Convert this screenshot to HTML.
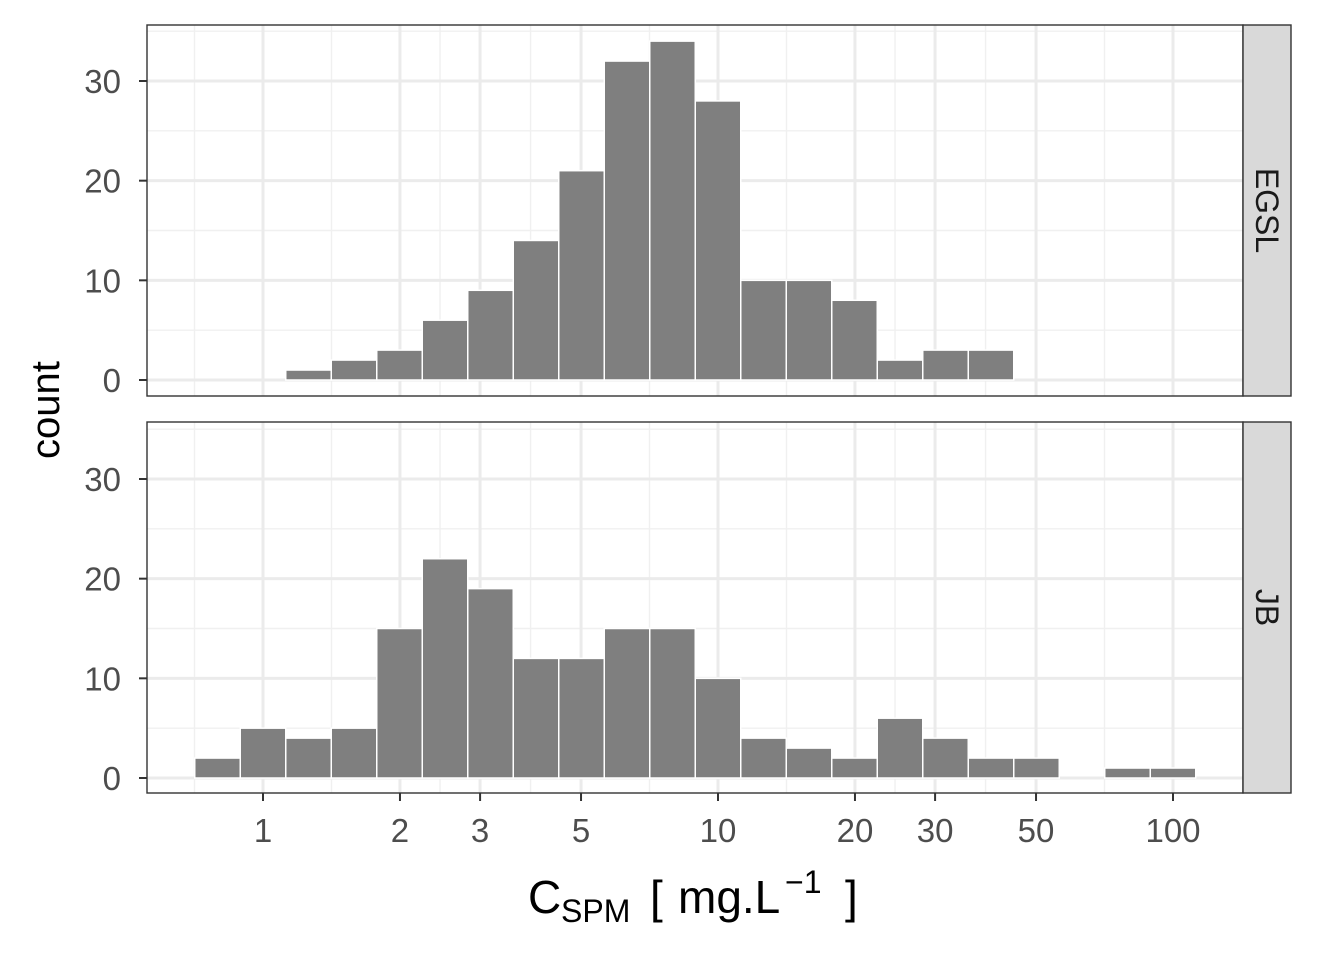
<!DOCTYPE html>
<html><head><meta charset="utf-8"><style>
body{margin:0;background:#fff;}
svg text{font-family:"Liberation Sans",sans-serif;}
</style></head><body>
<svg id="chart" width="1344" height="960" xmlns="http://www.w3.org/2000/svg"></svg>
<script>
const binStartsLog = -0.15, binWidthLog = 0.1;
const egslCounts = [0,0,1,2,3,6,9,14,21,32,34,28,10,10,8,2,3,3,0,0,0,0];
const jbCounts = [2,5,4,5,15,22,19,12,12,15,15,10,4,3,2,6,4,2,2,0,1,1];
const xTicks = [1,2,3,5,10,20,30,50,100];
const xTickLabels = ["1","2","3","5","10","20","30","50","100"];
const yTicks = [0,10,20,30];
const yTickLabels = ["0","10","20","30"];
const panelNames = ["EGSL","JB"];

const svg = document.getElementById('chart');
const NS = "http://www.w3.org/2000/svg";
function mk(tag, attrs, parent){const e=document.createElementNS(NS,tag);for(const k in attrs)e.setAttribute(k,attrs[k]);(parent||svg).appendChild(e);return e;}
const L=147,R=1243;
function xs(lg){return 263+455*lg;}
const panels=[{top:25,bot:396,zero:380,counts:egslCounts},{top:422,bot:793,zero:778,counts:jbCounts}];
const perUnit=(380-81)/30;
panels.forEach((p,pi)=>{
  const ys=v=>p.zero-v*perUnit;
  const g=mk('g',{});
  
  
  mk('rect',{x:L,y:p.top,width:R-L,height:p.bot-p.top,fill:'#fff'},g);
  [5,15,25,35].forEach(v=>{const y=ys(v);if(y>p.top)mk('line',{x1:L,x2:R,y1:y,y2:y,stroke:'#f0f0f0','stroke-width':1.4},g);});
  const lt=xTicks.map(Math.log10);
  const minors=[lt[0]-(lt[1]-lt[0])/2];
  for(let i=0;i<lt.length-1;i++)minors.push((lt[i]+lt[i+1])/2);
  minors.forEach(m=>{const x=xs(m);if(x>L&&x<R)mk('line',{x1:x,x2:x,y1:p.top,y2:p.bot,stroke:'#f0f0f0','stroke-width':1.4},g);});
  yTicks.forEach(v=>{const y=ys(v);mk('line',{x1:L,x2:R,y1:y,y2:y,stroke:'#ebebeb','stroke-width':3},g);});
  xTicks.forEach(v=>{const x=xs(Math.log10(v));mk('line',{x1:x,x2:x,y1:p.top,y2:p.bot,stroke:'#ebebeb','stroke-width':3},g);});
  p.counts.forEach((c,i)=>{
    const x0=xs(binStartsLog+i*binWidthLog),x1=xs(binStartsLog+(i+1)*binWidthLog);
    const b=mk('rect',{x:x0,y:ys(c),width:x1-x0,height:c*perUnit,fill:'#7f7f7f',stroke:'#fff','stroke-width':1.5},g);
    
    
  });
  mk('rect',{x:L,y:p.top,width:R-L,height:p.bot-p.top,fill:'none',stroke:'#333','stroke-width':1.4},g);
  yTicks.forEach((v,i)=>{const y=ys(v);mk('line',{x1:L-8,x2:L,y1:y,y2:y,stroke:'#333','stroke-width':2},g);
    const t=mk('text',{x:L-26,y:y+12,'text-anchor':'end','font-size':33,fill:'#4d4d4d'},g);t.textContent=yTickLabels[i];
    });
  const s=mk('rect',{x:R,y:p.top,width:48,height:p.bot-p.top,fill:'#d9d9d9',stroke:'#333','stroke-width':1.4},g);
  
  
  const cy=(p.top+p.bot)/2;
  const st=mk('text',{x:R+24,y:cy,'text-anchor':'middle','font-size':32,fill:'#1a1a1a',transform:`rotate(90 ${R+24} ${cy}) translate(0 11)`},g);
  st.textContent=panelNames[pi];
});
xTicks.forEach((v,i)=>{const x=xs(Math.log10(v));mk('line',{x1:x,x2:x,y1:793,y2:801,stroke:'#333','stroke-width':2});
  const t=mk('text',{x:x,y:842,'text-anchor':'middle','font-size':33,fill:'#4d4d4d'});t.textContent=xTickLabels[i];
  });
const yt=mk('text',{x:59,y:410,'text-anchor':'middle','font-size':40,fill:'#000',transform:'rotate(-90 59 410)'});yt.textContent='count';

const xt=mk('text',{x:528,y:913,'font-size':46,fill:'#000'});

xt.innerHTML='C<tspan font-size="32" x="561" y="922">SPM</tspan><tspan x="650" y="913">[</tspan><tspan x="678" y="913">mg.L</tspan><tspan font-size="32" x="785" y="893">−1</tspan><tspan x="845" y="913">]</tspan>';
</script>
</body></html>
